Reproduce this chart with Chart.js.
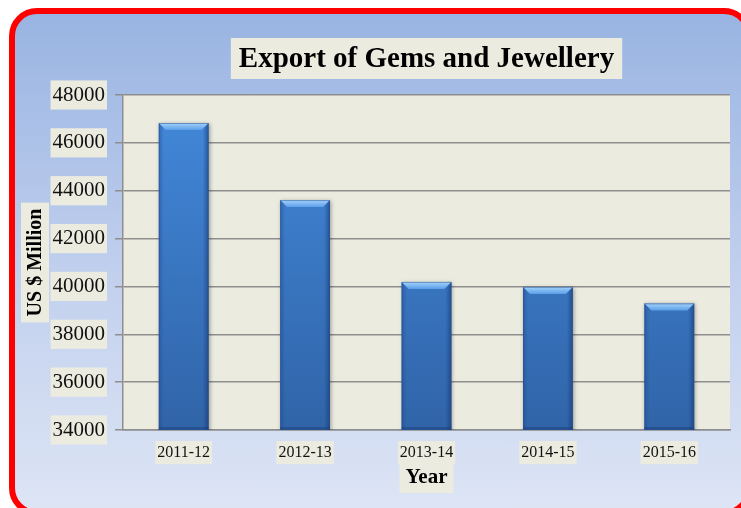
<!DOCTYPE html>
<html>
<head>
<meta charset="utf-8">
<script src="https://cdn.jsdelivr.net/npm/chart.js@4"></script>
<style>
  html, body { margin: 0; padding: 0; background: #fff; }
  #wrap { position: relative; width: 741px; height: 508px; overflow: hidden; background: #fff; }
  #frame {
    position: absolute; left: 9px; top: 8px; width: 731px; height: 496px;
    border: 6px solid #ff0000; border-radius: 28px;
    background: linear-gradient(to bottom, #99b4e2 0%, #c3d1ee 55%, #dde5f5 100%);
  }
  canvas { position: absolute; left: 0; top: 0; }
</style>
</head>
<body>
<div id="wrap">
  <div id="frame"></div>
  <canvas id="chart" width="741" height="508"></canvas>
</div>
<script>
const years = ['2011-12', '2012-13', '2013-14', '2014-15', '2015-16'];
const exports = [46830, 43610, 40190, 39980, 39290];
const yTicks = [34000, 36000, 38000, 40000, 42000, 44000, 46000, 48000];

const titleText = 'Export of Gems and Jewellery';
const yTitle = 'US $ Million';
const xTitle = 'Year';
const beige = '#ecebe0';

// plot background, title and axis titles with their beige boxes
const decor = {
  id: 'decor',
  beforeDraw(chart) {
    const ctx = chart.ctx, a = chart.chartArea;
    ctx.save();
    ctx.fillStyle = beige;
    ctx.fillRect(a.left, a.top, a.right - a.left, a.bottom - a.top);
    ctx.restore();
  },
  afterDraw(chart) {
    const ctx = chart.ctx, a = chart.chartArea;
    const cx = (a.left + a.right) / 2;
    ctx.save();
    ctx.textAlign = 'center';
    ctx.textBaseline = 'middle';

    ctx.font = 'bold 29px "Liberation Serif"';
    let w = ctx.measureText(titleText).width;
    ctx.fillStyle = beige;
    ctx.fillRect(cx - w / 2 - 8, 38, w + 16, 41);
    ctx.fillStyle = '#000';
    ctx.fillText(titleText, cx, 60);

    ctx.font = 'bold 21px "Liberation Serif"';
    w = ctx.measureText(xTitle).width;
    ctx.fillStyle = beige;
    ctx.fillRect(cx - w / 2 - 6, a.bottom + 32, w + 12, 31);
    ctx.fillStyle = '#000';
    ctx.fillText(xTitle, cx, a.bottom + 48);

    const cy = (a.top + a.bottom) / 2;
    ctx.translate(35, cy);
    ctx.rotate(-Math.PI / 2);
    ctx.font = 'bold 20px "Liberation Serif"';
    w = ctx.measureText(yTitle).width;
    ctx.fillStyle = beige;
    ctx.fillRect(-w / 2 - 6, -14, w + 12, 28);
    ctx.fillStyle = '#000';
    ctx.fillText(yTitle, 0, 1);
    ctx.restore();
  }
};

// shaded bevel on every bar, taken from the bar elements
const bevel = {
  id: 'bevel',
  beforeDatasetsDraw(chart) {
    const ctx = chart.ctx;
    ctx.save();
    ctx.shadowColor = 'rgba(0,0,0,0.35)';
    ctx.shadowBlur = 4;
    ctx.shadowOffsetX = 1;
    ctx.shadowOffsetY = 1;
  },
  afterDatasetsDraw(chart) {
    const ctx = chart.ctx, a = chart.chartArea;
    ctx.restore();
    const meta = chart.getDatasetMeta(0);
    ctx.save();
    ctx.beginPath();
    ctx.rect(a.left, a.top, a.right - a.left, a.bottom - a.top);
    ctx.clip();
    meta.data.forEach(bar => {
      const l = bar.x - bar.width / 2, r = bar.x + bar.width / 2;
      const t = bar.y, b = Math.min(bar.base, a.bottom), d = 7;
      // left edge
      let g = ctx.createLinearGradient(l, 0, l + 5, 0);
      g.addColorStop(0, 'rgba(30,70,140,0.45)');
      g.addColorStop(1, 'rgba(30,70,140,0)');
      ctx.fillStyle = g;
      ctx.fillRect(l, t, 5, b - t);
      // right edge
      g = ctx.createLinearGradient(r - 6, 0, r, 0);
      g.addColorStop(0, 'rgba(20,50,110,0)');
      g.addColorStop(1, 'rgba(20,50,110,0.55)');
      ctx.fillStyle = g;
      ctx.fillRect(r - 6, t, 6, b - t);
      // bottom edge
      ctx.fillStyle = 'rgba(20,50,110,0.35)';
      ctx.fillRect(l, b - 3, r - l, 3);
      // top face
      g = ctx.createLinearGradient(0, t, 0, t + d);
      g.addColorStop(0, '#a4d3fc');
      g.addColorStop(1, '#5c9fe8');
      ctx.fillStyle = g;
      ctx.beginPath();
      ctx.moveTo(l, t); ctx.lineTo(r, t); ctx.lineTo(r - d, t + d); ctx.lineTo(l + d, t + d);
      ctx.fill();
      ctx.strokeStyle = 'rgba(40,80,140,0.5)';
      ctx.lineWidth = 1;
      ctx.strokeRect(l + 0.5, t + 0.5, r - l - 1, b - t - 1);
    });
    ctx.restore();
  }
};

const ctx = document.getElementById('chart').getContext('2d');
new Chart(ctx, {
  type: 'bar',
  data: {
    labels: years,
    datasets: [{
      data: exports,
      backgroundColor: function(c) {
        const a = c.chart.chartArea;
        if (!a) return '#3c7ccc';
        const g = c.chart.ctx.createLinearGradient(0, a.top, 0, a.bottom);
        g.addColorStop(0, '#4389db');
        g.addColorStop(1, '#3064a8');
        return g;
      },
      borderWidth: 0,
      barPercentage: 0.41,
      categoryPercentage: 1
    }]
  },
  options: {
    responsive: false,
    animation: false,
    layout: { padding: { top: 95, right: 11, left: 0, bottom: 0 } },
    plugins: { legend: { display: false }, tooltip: { enabled: false }, title: { display: false } },
    scales: {
      x: {
        afterFit(s) { s.height = 78; },
        grid: { display: false, drawTicks: false },
        border: { display: true, color: '#8e8e8e', width: 1.5 },
        ticks: {
          padding: 13,
          color: '#111',
          font: { family: 'Liberation Serif', size: 16 },
          showLabelBackdrop: true,
          backdropColor: beige,
          backdropPadding: 2
        }
      },
      y: {
        min: 34000,
        max: 48000,
        afterFit(s) { s.width = 123; },
        afterBuildTicks(s) { s.ticks = yTicks.map(v => ({ value: v })); },
        grid: { color: '#8e8e8e', lineWidth: 1.5, tickLength: 8 },
        border: { display: true, color: '#8e8e8e', width: 1.5 },
        ticks: {
          padding: 10,
          color: '#111',
          callback: v => String(v),
          font: { family: 'Liberation Serif', size: 21 },
          showLabelBackdrop: true,
          backdropColor: beige,
          backdropPadding: 2
        }
      }
    }
  },
  plugins: [decor, bevel]
});
</script>
</body>
</html>
